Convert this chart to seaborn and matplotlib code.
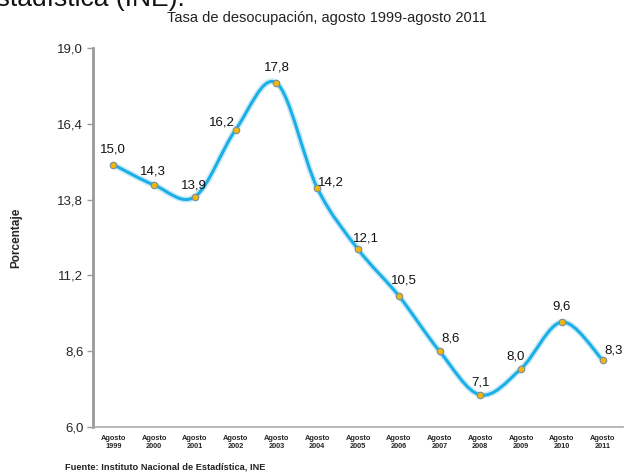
import matplotlib
matplotlib.use("Agg")
import matplotlib.pyplot as plt
from matplotlib.path import Path
from matplotlib.patches import PathPatch
import seaborn as sns
import pandas as pd
import numpy as np

years = [1999, 2000, 2001, 2002, 2003, 2004, 2005, 2006, 2007, 2008, 2009, 2010, 2011]
rates = [15.0, 14.3, 13.9, 16.2, 17.8, 14.2, 12.1, 10.5, 8.6, 7.1, 8.0, 9.6, 8.3]
yticks = [6.0, 8.6, 11.2, 13.8, 16.4, 19.0]
title = "Tasa de desocupación, agosto 1999-agosto 2011"
source = "Fuente: Instituto Nacional de Estadística, INE"
header = "Estadística (INE)."

# label offsets in points (style only)
label_offsets = [(0, 11), (-1, 10), (-1, 8), (-10, 5), (0, 11), (10, 4), (6, 8),
                 (4, 11), (8, 9), (0, 9), (-4, 9), (0, 11), (8, 7)]

sns.set_style("white")
plt.rcParams['font.family'] = ['Liberation Sans', 'DejaVu Sans']

df = pd.DataFrame({"pos": np.arange(len(years)), "rate": rates})

fig = plt.figure(figsize=(6.33, 4.74), dpi=100)
ax = fig.add_axes([93/633, 1 - 427/474, (623 - 93)/633, (427 - 48)/474])

# smooth curve via Bezier path (Catmull-Rom control points)
xs = df["pos"].to_numpy(float)
ys = df["rate"].to_numpy(float)
verts = [(xs[0], ys[0])]
codes = [Path.MOVETO]
n = len(xs)
for i in range(n - 1):
    p0 = np.array([xs[max(i - 1, 0)], ys[max(i - 1, 0)]])
    p1 = np.array([xs[i], ys[i]])
    p2 = np.array([xs[i + 1], ys[i + 1]])
    p3 = np.array([xs[min(i + 2, n - 1)], ys[min(i + 2, n - 1)]])
    c1 = p1 + (p2 - p0) / 6
    c2 = p2 - (p3 - p1) / 6
    verts += [tuple(c1), tuple(c2), tuple(p2)]
    codes += [Path.CURVE4] * 3
path = Path(verts, codes)
ax.add_patch(PathPatch(path, facecolor='none', edgecolor='#cdeaf7', lw=4.5, zorder=2))
ax.add_patch(PathPatch(path, facecolor='none', edgecolor='#1aafe6', lw=2.2, zorder=3))

sns.scatterplot(data=df, x="pos", y="rate", ax=ax, s=22, color='#f2b705',
                edgecolor='#7a8ea0', linewidth=0.8, zorder=4)

for i, (x, y) in enumerate(zip(df["pos"], df["rate"])):
    dx, dy = label_offsets[i]
    ax.annotate(f"{y:.1f}".replace(".", ","), (x, y), xytext=(dx, dy),
                textcoords="offset points", ha="center", va="center",
                fontsize=9.5, color="#111111", zorder=5)

ax.set_xlim(-0.5, len(years) - 0.5)
ax.set_ylim(6.0, 19.0)
ax.set_yticks(yticks)
ax.set_yticklabels([f"{v:.1f}".replace(".", ",") for v in yticks], fontsize=9.5)
ax.set_xticks(df["pos"])
ax.set_xticklabels([f"Agosto\n{y}" for y in years], fontsize=5.3, fontweight="bold",
                   linespacing=1.1)
ax.set_xticks(np.arange(-0.5, len(years), 1.0), minor=True)
ax.tick_params(axis='x', which='major', length=0, pad=6)
ax.tick_params(axis='x', which='minor', length=3, color='#999999', width=1, direction='out')
ax.tick_params(axis='y', length=4, color='#999999', width=1, direction='out', pad=3, left=True)
ax.set_xlabel("")
ax.set_ylabel("Porcentaje", fontsize=8.5, fontweight="bold")
ax.yaxis.set_label_coords(-(93 - 22) / (623 - 93), 0.5)
for s in ["top", "right"]:
    ax.spines[s].set_visible(False)
ax.spines["left"].set_color("#999999")
ax.spines["left"].set_linewidth(2)
ax.spines["bottom"].set_color("#aaaaaa")
ax.spines["bottom"].set_linewidth(1.2)

fig.text(327/633, 1 - 22/474, title, ha="center", va="baseline", fontsize=10.5, color="#222222")
fig.text(65/633, 1 - 467/474, source, ha="left", va="center", fontsize=6.7,
         fontweight="bold", color="#222222")
fig.text(185/633, 1 - 6/474, header, ha="right", va="baseline",
         fontsize=19, color="#111111")

fig.savefig("out.png", dpi=100)
